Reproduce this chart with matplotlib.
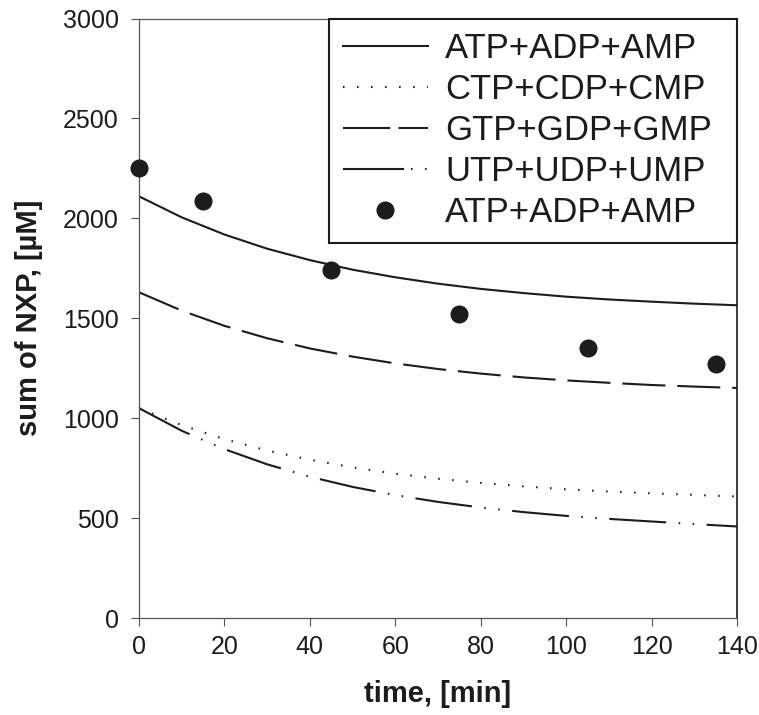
import matplotlib
matplotlib.use("Agg")
import matplotlib.pyplot as plt
from matplotlib.lines import Line2D

plt.rcParams['font.family'] = ['Liberation Sans', 'DejaVu Sans']
plt.rcParams['lines.scale_dashes'] = False

# Model curves (sum of nucleotide pools), sampled every 10 min
t_model = [0, 10, 20, 30, 40, 50, 60, 70, 80, 90, 100, 110, 120, 130, 140]
atp_model = [2110, 2005, 1919, 1848, 1791, 1743, 1705, 1673, 1647, 1626, 1608, 1594, 1583, 1573, 1565]
ctp_model = [1050, 965, 895, 838, 792, 754, 722, 697, 676, 659, 644, 633, 624, 616, 608]
gtp_model = [1630, 1538, 1462, 1400, 1349, 1308, 1274, 1246, 1223, 1204, 1189, 1177, 1166, 1158, 1151]
utp_model = [1050, 937, 845, 769, 707, 656, 615, 581, 553, 530, 511, 496, 483, 470, 458]

# Measured adenine nucleotide pool
t_meas = [0, 15, 45, 75, 105, 135]
atp_meas = [2250, 2088, 1740, 1522, 1352, 1272]

labels = ["ATP+ADP+AMP", "CTP+CDP+CMP", "GTP+GDP+GMP", "UTP+UDP+UMP", "ATP+ADP+AMP"]
xticks = [0, 20, 40, 60, 80, 100, 120, 140]
yticks = [0, 500, 1000, 1500, 2000, 2500, 3000]

ink = "#1c1c1c"
lw = 1.5
dotted = (0, (1.1, 9.0))
dashed = (0, (31, 8.6))
dashdotdot = (0, (41, 9, 1.1, 9, 1.1, 9))

fig = plt.figure(figsize=(7.59, 7.15), dpi=100)
ax = fig.add_axes([139 / 759, 1 - 618 / 715, 598 / 759, 599.5 / 715])

l1, = ax.plot(t_model, atp_model, color=ink, lw=lw, linestyle='-')
l2, = ax.plot(t_model, ctp_model, color=ink, lw=lw, linestyle=dotted)
l3, = ax.plot(t_model, gtp_model, color=ink, lw=lw, linestyle=dashed)
l4, = ax.plot(t_model, utp_model, color=ink, lw=lw, linestyle=dashdotdot)
l5, = ax.plot(t_meas, atp_meas, linestyle='none', marker='o', markersize=12,
              color=ink, markeredgecolor=ink, clip_on=False, zorder=5)

ax.set_xlim(0, 140)
ax.set_ylim(0, 3000)
ax.set_xticks(xticks)
ax.set_yticks(yticks)
ax.tick_params(axis='both', direction='out', length=5.5, width=0.8, color='#555555',
               labelsize=18, labelcolor=ink)
ax.tick_params(axis='x', pad=7)
ax.tick_params(axis='y', pad=9)
for side in ['left', 'bottom', 'right', 'top']:
    ax.spines[side].set_color('#555555')
    ax.spines[side].set_linewidth(0.9)
ax.spines['right'].set_color(ink)
ax.spines['right'].set_linewidth(1.2)

ax.set_xlabel("time, [min]", fontsize=21, fontweight='bold', color=ink, labelpad=15)
ax.set_ylabel("sum of NXP, [µM]", fontsize=21, fontweight='bold', color=ink, labelpad=14)

# Legend keys: the dash-dot-dot key uses a tighter pattern so both dots fit
key_dashed = Line2D([], [], color=ink, lw=lw, linestyle=(0, (34, 6)))
key_dashdotdot = Line2D([], [], color=ink, lw=lw, linestyle=(0, (44, 5, 1.1, 9, 1.1, 9)))

leg_x0 = (329 - 139) / 598
leg = ax.legend([l1, l2, key_dashed, key_dashdotdot, l5], labels, loc='upper right',
                bbox_to_anchor=(leg_x0, 0, 1 - leg_x0, 1.0), mode='expand',
                borderaxespad=0, fancybox=False, framealpha=1, edgecolor=ink,
                fontsize=25, handlelength=2.45, handletextpad=0.5,
                labelspacing=0.23, borderpad=0.4, numpoints=1)
leg.get_frame().set_linewidth(1.5)
for txt in leg.get_texts():
    txt.set_color(ink)

fig.savefig("out.png", dpi=100)
